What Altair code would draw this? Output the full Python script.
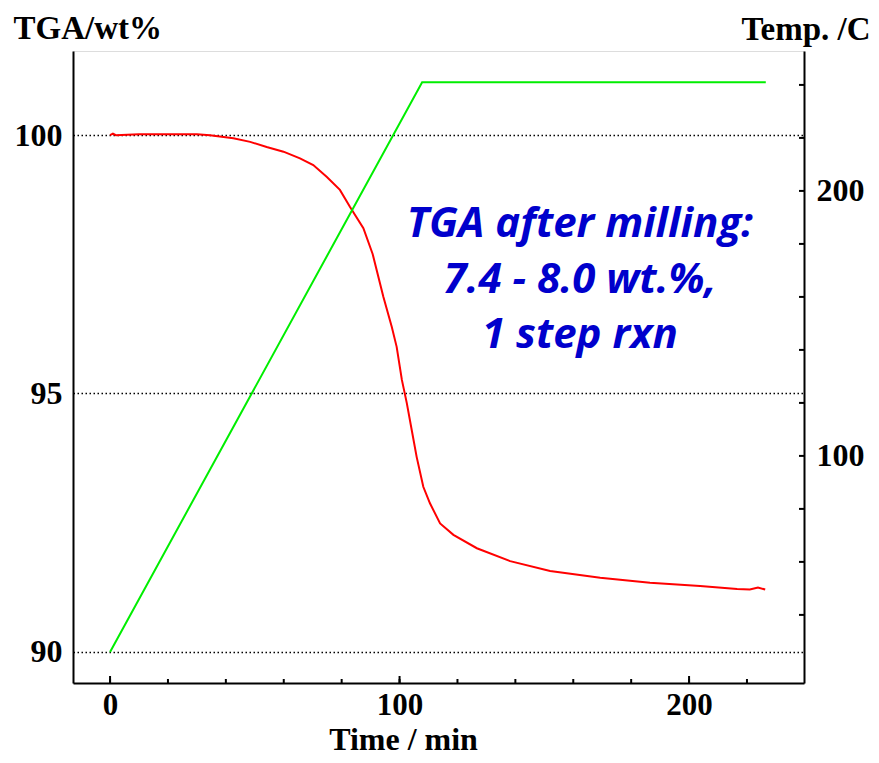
import altair as alt
import pandas as pd

# Red TGA curve (time in min, weight %)
tga_time = [0, 1, 2, 10, 20, 30, 34.5, 42.6, 48.4, 54.1, 59.9, 65.6, 70.2, 74.9, 79.4,
            82.9, 87.5, 90.7, 94.4, 97.3, 99.0, 100.8, 102.5, 104.2, 105.9, 108.2,
            110.5, 114.0, 118.6, 126.7, 138.2, 152.0, 169.3, 186.5, 203.8, 216.6,
            221.0, 223.8, 226.3]
tga_wt = [100.0, 100.03, 100.0, 100.02, 100.02, 100.02, 100.0, 99.94, 99.87, 99.77,
          99.68, 99.55, 99.42, 99.19, 98.94, 98.61, 98.2, 97.7, 96.87, 96.29, 95.9,
          95.26, 94.81, 94.29, 93.77, 93.19, 92.87, 92.48, 92.26, 92.0, 91.75, 91.56,
          91.43, 91.33, 91.27, 91.21, 91.2, 91.24, 91.2]

# Green temperature program (time in min, temp in C)
temp_time = [0, 107.8, 226.5]
temp_c = [26, 241, 241]

x_ticks = [0, 20, 40, 60, 80, 100, 120, 140, 160, 180, 200, 220]
x_major = [0, 100, 200]
y_left_ticks = [90, 95, 100]
y_right_ticks = [40, 60, 80, 100, 120, 140, 160, 180, 200, 220, 240]
y_right_labels = [100, 200]

note_lines = ["TGA after milling:", "7.4 - 8.0 wt.%,", "1 step rxn"]
note_x = [162.3, 162.3, 162.3]
note_y = [98.03, 96.94, 95.88]

W, H = 731, 632
XDOM = [-12.8, 239.7]
LDOM = [89.39, 101.63]
RDOM = [14.3, 252.8]
SERIF = "Liberation Serif"

xscale = alt.Scale(domain=XDOM, nice=False, zero=False)
lscale = alt.Scale(domain=LDOM, nice=False, zero=False)
rscale = alt.Scale(domain=RDOM, nice=False, zero=False)

x_axis = alt.Axis(values=x_major, ticks=False, grid=False, domainColor="black",
                  domainWidth=2, labelFont=SERIF, labelFontWeight="bold",
                  labelFontSize=31, labelColor="black", labelPadding=7,
                  title="Time / min", titleFont=SERIF, titleFontWeight="bold",
                  titleFontSize=32, titleColor="black", titleX=330, titleY=66,
                  titleBaseline="alphabetic", titleAlign="center")
l_axis = alt.Axis(values=y_left_ticks, ticks=False, grid=True, gridColor="black",
                  gridDash=[1.5, 2.5], gridWidth=1.4, gridOpacity=1, domainColor="black",
                  domainWidth=2, labelFont=SERIF, labelFontWeight="bold",
                  labelFontSize=32, labelColor="black", labelPadding=11,
                  title="TGA/wt%", titleFont=SERIF, titleFontWeight="bold",
                  titleFontSize=33, titleColor="black", titleAngle=0,
                  titleAlign="left", titleBaseline="alphabetic", titleX=-60, titleY=-13)
r_axis = alt.Axis(values=y_right_labels, ticks=False, grid=False, orient="right",
                  domainColor="black", domainWidth=2, labelFont=SERIF,
                  labelFontWeight="bold", labelFontSize=32, labelColor="black",
                  labelPadding=12, title="Temp. /C", titleFont=SERIF,
                  titleFontWeight="bold", titleFontSize=33, titleColor="black",
                  titleAngle=0, titleAlign="right", titleBaseline="alphabetic",
                  titleX=66, titleY=-12)

tga_df = pd.DataFrame({"t": tga_time, "w": tga_wt})
temp_df = pd.DataFrame({"t": temp_time, "c": temp_c})
xt_df = pd.DataFrame({"t": x_ticks, "major": [v in x_major for v in x_ticks]})
rt_df = pd.DataFrame({"c": y_right_ticks})
note_df = pd.DataFrame({"txt": note_lines, "t": note_x, "w": note_y})

red = alt.Chart(tga_df).mark_line(color="#ff0000", strokeWidth=2).encode(
    x=alt.X("t:Q", scale=xscale, axis=x_axis),
    y=alt.Y("w:Q", scale=lscale, axis=l_axis),
)
xticks_minor = alt.Chart(xt_df).mark_rule(color="black", strokeWidth=2).encode(
    x=alt.X("t:Q", scale=xscale),
    y=alt.value(H - 4), y2=alt.value(H),
)
xticks_major = alt.Chart(xt_df[xt_df["major"]]).mark_rule(color="black", strokeWidth=2).encode(
    x=alt.X("t:Q", scale=xscale),
    y=alt.value(H - 7), y2=alt.value(H),
)
note = alt.Chart(note_df).mark_text(font="Open Sans", fontSize=42, fontWeight="bold",
                                    fontStyle="italic", color="#0000cc",
                                    align="center", baseline="alphabetic").encode(
    x=alt.X("t:Q", scale=xscale),
    y=alt.Y("w:Q", scale=lscale),
    text="txt:N",
)
left = alt.layer(red, xticks_minor, xticks_major, note)

green = alt.Chart(temp_df).mark_line(color="#00ee00", strokeWidth=2).encode(
    x=alt.X("t:Q", scale=xscale),
    y=alt.Y("c:Q", scale=rscale, axis=r_axis),
)
rticks = alt.Chart(rt_df).mark_rule(color="black", strokeWidth=2).encode(
    y=alt.Y("c:Q", scale=rscale),
    x=alt.value(W - 5), x2=alt.value(W),
)
right = alt.layer(green, rticks)

chart = alt.layer(left, right).resolve_scale(y="independent").properties(
    width=W, height=H,
    autosize=alt.AutoSizeParams(type="none"),
    padding={"left": 65, "top": 43, "right": 67, "bottom": 72},
).configure_view(stroke="black", strokeWidth=2).configure(background="white")

chart.save("out.html", embed_options={"renderer": "svg", "actions": False})
